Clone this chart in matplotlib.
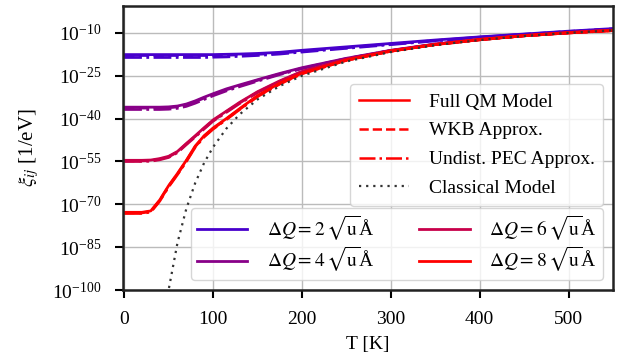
import numpy as np
import matplotlib
matplotlib.use('Agg')
from matplotlib import pyplot as plt

# temperature grid [K] and log10 of xi_ij
T = [0, 20, 30, 40, 50, 60, 70, 80, 90, 100, 115, 130, 150, 175, 200, 250, 300, 350, 400, 450, 500, 550]

full_2 = [-17.6, -17.6, -17.6, -17.6, -17.6, -17.6, -17.6, -17.6, -17.6, -17.6, -17.5, -17.4, -17.2, -16.8, -16.1, -14.9, -13.7, -12.5, -11.4, -10.4, -9.4, -8.5]
full_4 = [-36.0, -36.0, -36.0, -36.0, -35.9, -35.6, -34.9, -33.8, -32.5, -31.3, -29.6, -28.2, -26.4, -24.2, -22.2, -18.9, -16.1, -13.9, -12.3, -10.9, -9.9, -9.0]
full_6 = [-54.6, -54.6, -54.5, -54.0, -53.2, -51.5, -48.7, -46.0, -43.2, -40.5, -37.4, -34.3, -30.6, -26.8, -23.5, -19.2, -16.2, -14.0, -12.3, -11.0, -9.9, -9.1]
full_8 = [-72.8, -72.8, -72.3, -68.5, -63.5, -59.2, -54.6, -49.6, -46.0, -43.3, -40.0, -36.5, -32.0, -27.6, -24.1, -19.5, -16.4, -14.1, -12.4, -11.0, -10.0, -9.2]

wkb_2 = [-17.9, -17.9, -17.9, -17.9, -17.9, -17.9, -17.9, -17.9, -17.9, -17.9, -17.8, -17.7, -17.5, -17.1, -16.4, -15.2, -13.9, -12.7, -11.5, -10.5, -9.5, -8.6]
wkb_4 = [-36.3, -36.3, -36.3, -36.3, -36.2, -35.9, -35.2, -34.1, -32.8, -31.6, -29.9, -28.5, -26.6, -24.4, -22.4, -19.0, -16.2, -14.0, -12.3, -10.9, -9.9, -9.0]
wkb_6 = [-54.8, -54.8, -54.7, -54.2, -53.4, -51.7, -48.9, -46.2, -43.4, -40.7, -37.6, -34.5, -30.8, -27.0, -23.6, -19.3, -16.3, -14.0, -12.3, -11.0, -9.9, -9.1]
wkb_8 = [-73.0, -73.0, -72.5, -68.7, -63.7, -59.4, -54.8, -49.8, -46.2, -43.5, -40.2, -36.7, -32.2, -27.8, -24.2, -19.6, -16.4, -14.1, -12.4, -11.0, -10.0, -9.2]

pec_2 = [-18.6, -18.6, -18.6, -18.6, -18.6, -18.6, -18.6, -18.6, -18.6, -18.5, -18.4, -18.2, -17.9, -17.4, -16.7, -15.4, -14.1, -12.8, -11.6, -10.6, -9.6, -8.7]
pec_4 = [-36.8, -36.8, -36.8, -36.8, -36.7, -36.4, -35.7, -34.6, -33.3, -32.0, -30.3, -28.8, -26.9, -24.6, -22.5, -19.1, -16.2, -14.0, -12.3, -10.9, -9.9, -9.0]
pec_6 = [-55.0, -55.0, -54.9, -54.4, -53.6, -51.9, -49.1, -46.4, -43.6, -40.9, -37.8, -34.7, -30.9, -27.1, -23.7, -19.3, -16.3, -14.0, -12.3, -11.0, -9.9, -9.1]
pec_8 = [-73.2, -73.2, -72.7, -68.9, -63.9, -59.6, -55.0, -50.0, -46.4, -43.7, -40.3, -36.8, -32.3, -27.9, -24.3, -19.6, -16.4, -14.1, -12.4, -11.0, -10.0, -9.2]

T_cl = [48, 50, 60, 70, 80, 90, 100, 115, 130, 150, 175, 200, 250, 300, 350, 400, 450, 500, 550]
classical = [-104.2, -100.0, -83.5, -71.5, -62.5, -55.5, -50.0, -43.5, -38.5, -33.3, -28.6, -25.0, -20.0, -16.7, -14.3, -12.5, -11.1, -10.0, -9.1]

dq_values = [2, 4, 6, 8]
colors = ['#4800cc', '#880088', '#c8004a', '#ff0000']
full = [full_2, full_4, full_6, full_8]
wkb = [wkb_2, wkb_4, wkb_6, wkb_8]
pec = [pec_2, pec_4, pec_6, pec_8]

plt.rcParams['font.family'] = 'serif'
plt.rcParams['font.serif'] = ['Liberation Serif', 'DejaVu Serif']
plt.rcParams['mathtext.fontset'] = 'stix'
plt.rcParams['font.size'] = 14

fig = plt.figure(figsize=(6.32, 3.63), dpi=100)
ax = fig.add_axes([0.195, 0.201, 0.775, 0.782])

dq_handles = []
for dq, c, f, w, p in zip(dq_values, colors, full, wkb, pec):
    (h,) = ax.plot(T, 10.0 ** np.array(f), color=c, lw=2, linestyle='-')
    ax.plot(T, 10.0 ** np.array(w), color=c, lw=2, linestyle='--')
    ax.plot(T, 10.0 ** np.array(p), color=c, lw=2, linestyle='-.')
    dq_handles.append(h)
ax.plot(T_cl, 10.0 ** np.array(classical), color='#333333', lw=1.6, linestyle=(0, (1, 2.2)))

ax.set_yscale('log')
ax.set_xlim(-1, 550)
ax.set_ylim(1e-100, 10 ** -0.65)
ax.set_yticks([10.0 ** e for e in range(-100, -9, 15)])
ax.minorticks_off()
ax.set_xticks([0, 100, 200, 300, 400, 500])
ax.grid(True, color='#bbbbbb', lw=1)
ax.set_axisbelow(True)
for s in ax.spines.values():
    s.set_linewidth(1.8)
    s.set_color('#222222')
ax.tick_params(width=1.5, length=6)
ax.tick_params(axis='x', pad=9)
ax.tick_params(axis='y', pad=10)
ax.set_xlabel('T [K]', labelpad=6)
ax.set_ylabel(r'$\xi_{ij}$ [1/eV]', labelpad=8, fontsize=15)

# line style legend
style_handles = [
    plt.Line2D([], [], color='r', lw=1.8, linestyle='-'),
    plt.Line2D([], [], color='r', lw=1.8, linestyle='--'),
    plt.Line2D([], [], color='r', lw=1.8, linestyle='-.'),
    plt.Line2D([], [], color='#333333', lw=1.6, linestyle=(0, (1, 2.2))),
]
style_labels = ['Full QM Model', 'WKB Approx.', 'Undist. PEC Approx.', 'Classical Model']
leg1 = ax.legend(style_handles, style_labels, loc='upper right', bbox_to_anchor=(0.98, 0.725),
                 borderaxespad=0, handlelength=2.6, handletextpad=1.0, labelspacing=0.58,
                 borderpad=0.45)
ax.add_artist(leg1)

dq_labels = [r'$\Delta Q = %d\,\sqrt{\mathrm{u}}$Å' % dq for dq in dq_values]
ax.legend(dq_handles, dq_labels, loc='lower right', bbox_to_anchor=(0.98, 0.035), ncol=2,
          borderaxespad=0, handlelength=2.6, handletextpad=1.0, columnspacing=2.3, labelspacing=0.12,
          borderpad=0.3)

fig.savefig('out.png', dpi=100)
